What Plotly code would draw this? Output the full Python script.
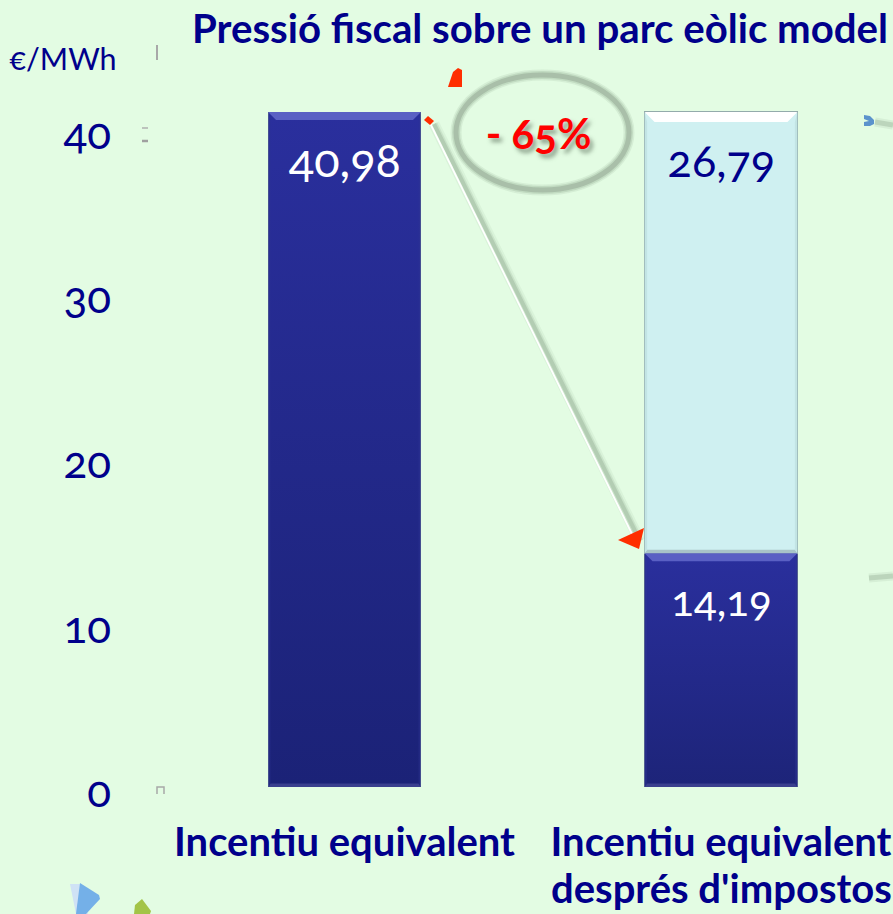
import plotly.graph_objects as go

# ---- data ----
category_lines = [["Incentiu equivalent"], ["Incentiu equivalent", "després d'impostos"]]
net_values = [40.98, 14.19]
tax_values = [None, 26.79]
y_ticks = [0, 10, 20, 30, 40]
title_text = "Pressió fiscal sobre un parc eòlic model"
unit_text = "€/MWh"
drop_text = "- 65%"

# ---- layout constants ----
W, H = 893, 914
ML, MR, MT, MB = 156, 0, 50, 127
PXX, PXY = 376.5, 16.47
X_POS = [0, 1]
BAR_W = 0.406
BG, NAVY, LIGHT = "#E3FCE3", "#00008B", "#CFF0F1"
X_RANGE = [-(344.5 - ML) / PXX, (W - 344.5) / PXX]
Y_RANGE = [0, (H - MB - MT) / PXY]
FONT = "Lato, 'Noto Sans', sans-serif"

def px(x, y):
    return (x - ML) / (W - ML - MR), 1 - (y - MT) / (H - MT - MB)

def path(points, close=True):
    s = []
    for i, (x, y) in enumerate(points):
        a, b = px(x, y)
        s.append(("M" if i == 0 else "L") + f"{a:.5f},{b:.5f}")
    return " ".join(s) + (" Z" if close else "")

shapes, annos = [], []

def poly(points, fill, line=None, lw=0):
    shapes.append(dict(type="path", xref="paper", yref="paper", path=path(points),
                       fillcolor=fill, line=dict(color=line or "rgba(0,0,0,0)", width=lw), layer="above"))

def stroke(points, color, w):
    shapes.append(dict(type="path", xref="paper", yref="paper", path=path(points, False),
                       line=dict(color=color, width=w), layer="above"))

def ellipse(x0, y0, x1, y1, color, w):
    a0, b0 = px(x0, y1)
    a1, b1 = px(x1, y0)
    shapes.append(dict(type="circle", xref="paper", yref="paper", x0=a0, x1=a1, y0=b0, y1=b1,
                       line=dict(color=color, width=w), layer="above"))

def data_poly(points, fill):
    s = " ".join(("M" if i == 0 else "L") + f"{x:.5f},{y:.5f}" for i, (x, y) in enumerate(points)) + " Z"
    shapes.append(dict(type="path", xref="x", yref="y", path=s, fillcolor=fill,
                       line=dict(width=0), layer="above"))

def bevel(xc, y0, y1, top, left, bottom, depth=8):
    x0, x1 = xc - BAR_W / 2, xc + BAR_W / 2
    dx, dy = depth / PXX, depth / PXY
    dxs, dyb = 2.5 / PXX, 3.5 / PXY
    data_poly([(x0, y1), (x1, y1), (x1 - dx, y1 - dy), (x0 + dx, y1 - dy)], top)
    data_poly([(x0, y0), (x1, y0), (x1 - dxs, y0 + dyb), (x0 + dxs, y0 + dyb)], bottom)
    data_poly([(x0, y0), (x0 + dxs, y0 + dyb), (x0 + dxs, y1 - dy), (x0, y1)], left)
    data_poly([(x1, y0), (x1 - dxs, y0 + dyb), (x1 - dxs, y1 - dy), (x1, y1)], left)

fig = go.Figure()
fig.add_bar(x=X_POS, y=net_values, width=BAR_W, marker=dict(color="#242A8E", line=dict(color="#5A6890", width=1)),
            hoverinfo="skip", showlegend=False)
fig.add_bar(x=X_POS, y=tax_values, width=BAR_W, marker=dict(color=LIGHT, line=dict(color="#93ABAB", width=1.5)),
            hoverinfo="skip", showlegend=False)

# vertical gradient on the dark bars, taken from the same values
for xc, v in zip(X_POS, net_values):
    x0, x1 = xc - BAR_W / 2, xc + BAR_W / 2
    top = "#2A2F9D" if v > 20 else "#2A2F9D"
    bot = "#1B2277" if v > 20 else "#1D2479"
    fig.add_scatter(x=[x0 + .002, x1 - .002, x1 - .002, x0 + .002, x0 + .002], y=[0.05, 0.05, v, v, 0.05],
                    mode="none", fill="toself",
                    fillgradient=dict(type="vertical", colorscale=[[0, bot], [1, top]]),
                    hoverinfo="skip", showlegend=False)
    bevel(xc, 0, v, "#5A60C4", "rgba(50,55,150,0.35)", "#3A3F8E")
    annos.append(dict(x=xc, y=v, xref="x", yref="y", text=f"{v:.2f}".replace(".", ","), showarrow=False,
                      xanchor="center", yanchor="middle",
                      yshift=-47, font=dict(family=FONT, size=47 if v > 20 else 42, color="white")))

for xc, v, t in zip(X_POS, net_values, tax_values):
    if t is None:
        continue
    bevel(xc, v, v + t, "#FFFFFF", "rgba(190,225,225,0.8)", "#A8C4C8", depth=10)
    annos.append(dict(x=xc, y=v + t, xref="x", yref="y", text=f"{t:.2f}".replace(".", ","), showarrow=False,
                      xanchor="center", yanchor="middle",
                      yshift=-48, font=dict(family=FONT, size=45, color=NAVY)))

# ---- ellipse around the percentage ----
for w, c in [(11, "rgba(150,175,150,0.18)"), (8, "rgba(150,175,150,0.3)"), (5, "rgba(160,182,160,0.75)")]:
    ellipse(456, 75, 629, 190, c, w)

# ---- arrow ----
for w, c in [(11, "rgba(140,165,140,0.10)"), (7, "rgba(140,165,140,0.2)"), (4, "rgba(130,155,130,0.3)")]:
    stroke([(434, 124), (640, 541)], c, w)
stroke([(430, 123), (632, 534)], "white", 1.8)
poly([(618, 540), (644, 528), (639, 549)], "#FF2E00")
poly([(424, 120), (428, 116), (434, 121), (430, 125)], "#FF2E00")
poly([(448, 87), (453, 72), (458, 68), (462, 70), (462, 87)], "#FF2E00")

# ---- leftover fragments of the slide ----
poly([(864, 115), (870, 116), (874, 120), (874, 124), (870, 126), (864, 126), (864, 122), (869, 121), (864, 119)], "#5B93CC")
for w, c in [(9, "rgba(140,165,140,0.15)"), (5, "rgba(140,165,140,0.35)")]:
    stroke([(875, 122), (893, 125)], c, w)
    stroke([(869, 578), (893, 576)], c, w)
stroke([(157, 45), (157, 60)], "#A8A8A8", 2)
stroke([(142, 128), (148, 128)], "#B0B0B0", 1.5)
stroke([(142, 141), (148, 141)], "#A0A0A0", 2.5)
stroke([(157, 794), (157, 787), (164, 787), (164, 794)], "#A8A8A8", 1.5)
poly([(70, 884), (80, 884), (88, 914), (76, 914)], "#CFE2F5")
poly([(80, 883), (99, 895), (100, 899), (86, 914), (76, 914)], "#74B0E8")
poly([(135, 905), (142, 899), (151, 911), (150, 914), (134, 914)], "#A3C447")

# ---- texts ----
annos.append(dict(x=px(540, 0)[0], y=px(0, 27)[1], xref="paper", yref="paper", text=f"<b>{title_text}</b>",
                  xanchor="center", yanchor="middle",
                  showarrow=False, font=dict(family=FONT, size=40.2, color=NAVY)))
annos.append(dict(x=px(63.5, 0)[0], y=px(0, 58)[1], xref="paper", yref="paper", text=unit_text,
                  xanchor="center", yanchor="middle",
                  showarrow=False, font=dict(family=FONT, size=30.5, color=NAVY)))
annos.append(dict(x=px(538.5, 0)[0], y=px(0, 133)[1], xref="paper", yref="paper", text=f"<b>{drop_text}</b>",
                  xanchor="center", yanchor="middle",
                  showarrow=False, font=dict(family=FONT, size=42, color="#FF0000",
                                             shadow="3px 4px 4px rgba(90,110,90,0.65)")))
for xc, lines in zip(X_POS, category_lines):
    for k, line in enumerate(lines[1:], start=1):
        annos.append(dict(x=xc, y=px(0, 842 + 46 * k)[1], xref="x", yref="paper", text=f"<b>{line}</b>",
                          xanchor="center", yanchor="middle", showarrow=False,
                          font=dict(family=FONT, size=40, color=NAVY)))

fig.update_layout(
    width=W, height=H, margin=dict(l=ML, r=MR, t=MT, b=MB), barmode="stack",
    paper_bgcolor=BG, plot_bgcolor=BG, showlegend=False, shapes=shapes, annotations=annos,
    xaxis=dict(range=X_RANGE, tickmode="array", tickvals=X_POS, ticktext=[f"<b>{c[0]}</b>" for c in category_lines],
               showgrid=False, zeroline=False, showline=False, ticks="", ticklabelstandoff=28,
               tickfont=dict(family=FONT, size=40, color=NAVY)),
    yaxis=dict(range=Y_RANGE, tickmode="array", tickvals=y_ticks, showgrid=False, zeroline=False, showline=False,
               ticks="", ticklabelstandoff=44, ticklabelshift=5,
               tickfont=dict(family=FONT, size=44, color=NAVY)),
)
post = """
document.body.style.margin='0';
document.documentElement.style.overflow='hidden';
var st=document.createElement('style');
st.textContent='svg text{font-variant-numeric:oldstyle-nums;font-feature-settings:"onum" 1;}';
document.head.appendChild(st);
"""
fig.write_html("out.html", config=dict(displayModeBar=False), post_script=post)
